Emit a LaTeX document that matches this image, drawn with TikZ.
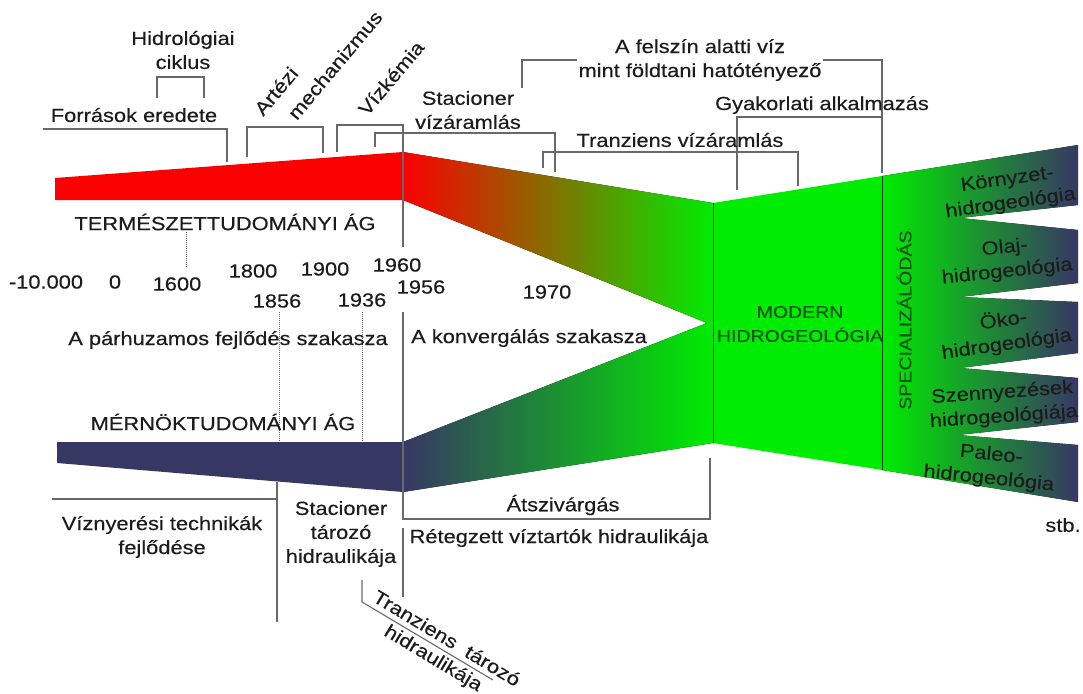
\documentclass[tikz,border=0pt]{standalone}
\usepackage{fontspec}
\setmainfont{Liberation Sans}[FakeStretch=1.15,FakeBold=0.3]
\newcommand\myfs[1]{\fontsize{#1}{24}\selectfont}
\definecolor{txt}{RGB}{28,28,28}
\definecolor{linegray}{RGB}{105,105,105}
\definecolor{bandred}{RGB}{250,0,0}
\definecolor{navy}{RGB}{55,55,100}
\definecolor{lgreen}{RGB}{0,236,0}
\definecolor{dgreen}{RGB}{10,85,20}
\begin{document}
\begin{tikzpicture}[x=1pt,y=-1pt,
  every node/.style={inner sep=0pt,text=txt},
  lbl/.style={align=center,font=\myfs{19}},
  small/.style={align=center,font=\myfs{17},text=dgreen},
  brk/.style={draw=linegray,line width=1.1pt},
  dotl/.style={draw=linegray,densely dotted,line width=1pt},
  sep/.style={draw=dgreen!70!black,line width=0.8pt}]
\useasboundingbox[fill=white] (0,0) rectangle (1083,693);

% ---- bands ----
\fill[bandred] (55,178) -- (403,152) -- (403,200) -- (55,200) -- cycle;
\fill[navy] (57,442) -- (403,442) -- (403,492) -- (57,463) -- cycle;
\fill[left color=bandred,right color=lgreen] (403,152) -- (713,203) -- (713,323) -- (707,323) -- (403,200) -- cycle;
\fill[left color=navy,right color=lgreen] (403,442) -- (707,323) -- (713,323) -- (713,443) -- (403,492) -- cycle;
\fill[lgreen] (713,203) -- (882,176) -- (882,470) -- (713,443) -- cycle;
\fill[left color=lgreen,right color=navy]
  (882,176) -- (1078,145) -- (1078,205) -- (960,218) -- (1078,230) -- (1078,283)
  -- (960,297) -- (1078,302) -- (1078,353) -- (960,368) -- (1078,378) -- (1078,422)
  -- (958,435) -- (1078,445) -- (1078,502) -- (882,470) -- cycle;
\draw[sep] (713,203) -- (713,443);
\draw[sep] (882,176) -- (882,470);

% ---- brackets and guide lines ----
\draw[brk] (157,98) -- (157,77) -- (204,77) -- (204,98);
\draw[brk] (43,129) -- (227,129) -- (227,162);
\draw[brk] (247,157) -- (247,127) -- (323,127) -- (323,153);
\draw[brk] (337,152) -- (337,125) -- (403,125) -- (403,247);
\draw[brk] (375,147) -- (375,133) -- (555,133) -- (555,172);
\draw[brk] (522,88) -- (522,60) -- (882,60) -- (882,173);
\draw[brk] (737,190) -- (737,117) -- (882,117);
\draw[brk] (543,168) -- (543,152) -- (798,152) -- (798,186);
\draw[brk] (403,312) -- (403,519) -- (710,519) -- (710,458);
\draw[brk] (403,528) -- (403,597);
\draw[brk] (52,499) -- (277,499);
\draw[brk] (277,482) -- (277,622);
\draw[brk] (362,580) -- (362,602) -- (493,680);
\draw[dotl] (186,232) -- (186,268);
\draw[dotl] (279,312) -- (279,442);
\draw[dotl] (362,312) -- (362,442);

% ---- labels top ----
\node[lbl] (hidro) at (183,50) {Hidrológiai\\ciklus};
\node[lbl] (forr) at (134,115) {Források eredete};
\node[lbl,rotate=50] (art) at (276,91) {Artézi};
\node[lbl,rotate=50] (mech) at (335,65) {mechanizmus};
\node[lbl,rotate=50] (vizk) at (391,78) {Vízkémia};
\node[lbl] (stac) at (468,110) {Stacioner\\vízáramlás};
\node[lbl,fill=white,inner xsep=2pt,inner ysep=0pt] (felsz) at (700,60) {A felszín alatti víz\\mint földtani hatótényező};
\node[lbl] (gyak) at (822,105) {Gyakorlati alkalmazás};
\node[lbl] (tranv) at (680,140) {Tranziens vízáramlás};

% ---- middle ----
\node[lbl] (term) at (225,222) {TERMÉSZETTUDOMÁNYI ÁG};
\node[lbl] (y1) at (46,282) {-10.000};
\node[lbl] (y2) at (115,282) {0};
\node[lbl] (y3) at (177,284) {1600};
\node[lbl] (y4) at (253,271) {1800};
\node[lbl] (y5) at (325,269) {1900};
\node[lbl] (y6) at (397,265) {1960};
\node[lbl] (y7) at (277,301) {1856};
\node[lbl] (y8) at (362,300) {1936};
\node[lbl] (y9) at (421,287) {1956};
\node[lbl] (y10) at (547,292) {1970};
\node[lbl] (parh) at (228,340) {A párhuzamos fejlődés szakasza};
\node[lbl] (konv) at (529,338) {A konvergálás szakasza};
\node[lbl] (mern) at (223,422) {MÉRNÖKTUDOMÁNYI ÁG};

% ---- bottom ----
\node[lbl] (vizny) at (162,537) {Víznyerési technikák\\fejlődése};
\node[lbl] (stact) at (341,534) {Stacioner\\tározó\\hidraulikája};
\node[lbl] (atsz) at (563,505) {Átszivárgás};
\node[lbl] (reteg) at (559,538) {Rétegzett víztartók hidraulikája};
\node[lbl,rotate=-31] (tr1) at (447,638) {Tranziens\ \ tározó};
\node[lbl,rotate=-31] (tr2) at (433,659) {hidraulikája};

% ---- right ----
\node[small] (modern) at (800,324) {MODERN\\HIDROGEOLÓGIA};
\node[small,rotate=90] (spec) at (904,320) {SPECIALIZÁLÓDÁS};
\node[lbl,rotate=8] (f1) at (1009,192) {Környzet-\\hidrogeológia};
\node[lbl,rotate=6] (f2) at (1006,260) {Olaj-\\hidrogeológia};
\node[lbl,rotate=8] (f3) at (1005,332) {Öko-\\hidrogeológia};
\node[lbl,rotate=4] (f4) at (1003,405) {Szennyezések\\hidrogeológiája};
\node[lbl,rotate=-6] (f5) at (990,467) {Paleo-\\hidrogeológia};
\node[lbl] (stb) at (1063,525) {stb.};
\end{tikzpicture}
\end{document}
